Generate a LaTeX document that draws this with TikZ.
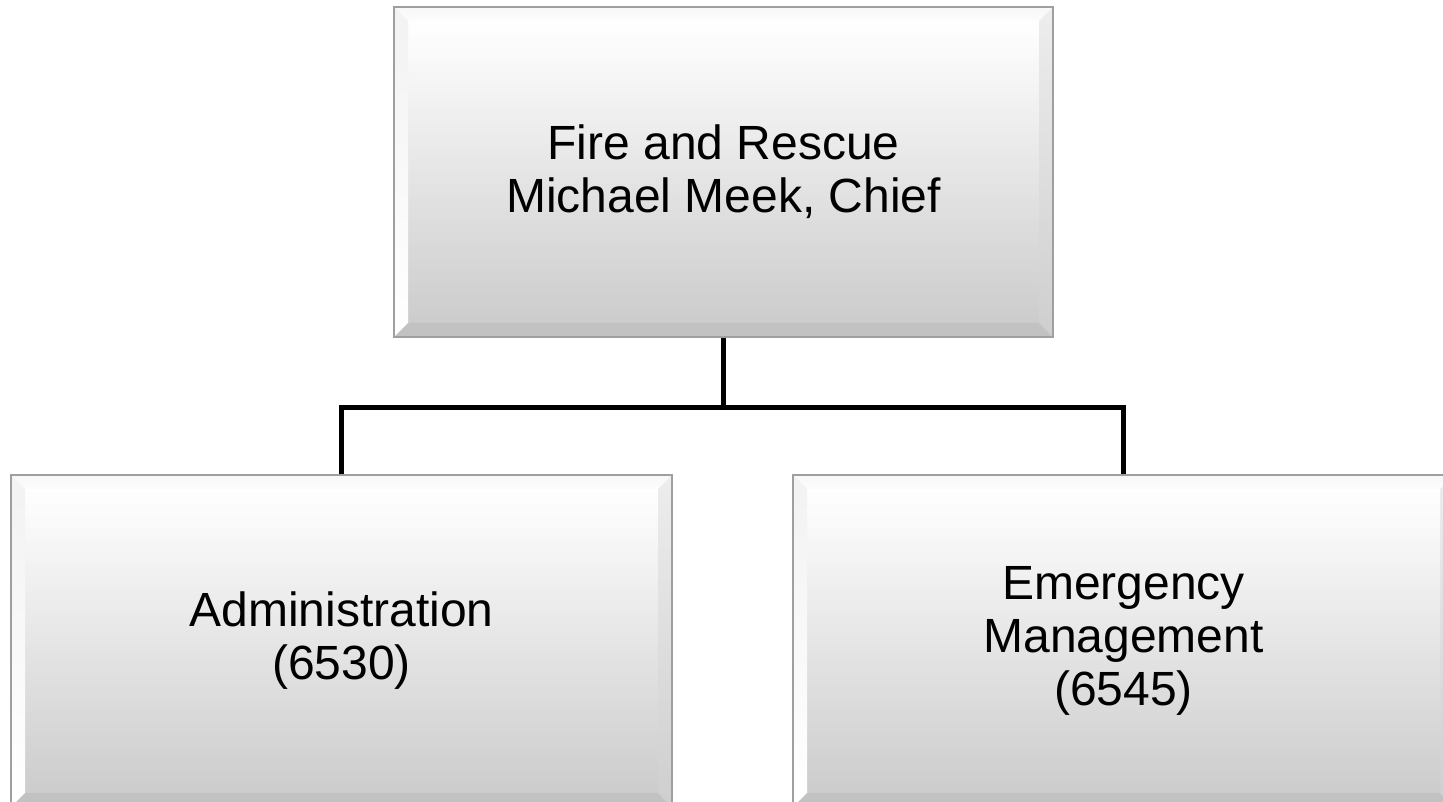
\documentclass[tikz,border=0pt]{standalone}
\usepackage{fontspec}
\setmainfont{Liberation Sans}
\usetikzlibrary{calc}
\newcommand{\bw}{14pt}
\tikzset{
  bevelbox/.style={rectangle, draw=gray!75, line width=1.2pt, align=center, inner sep=0pt,
    font=\fontsize{48}{53}\selectfont,
    path picture={
      \coordinate (A) at (path picture bounding box.north west);
      \coordinate (B) at (path picture bounding box.north east);
      \coordinate (C) at (path picture bounding box.south east);
      \coordinate (D) at (path picture bounding box.south west);
      \coordinate (a) at ($(A)+(\bw,-\bw)$);
      \coordinate (b) at ($(B)+(-\bw,-\bw)$);
      \coordinate (c) at ($(C)+(-\bw,\bw)$);
      \coordinate (d) at ($(D)+(\bw,\bw)$);
      \shade[top color=white, bottom color=gray!40] (a) rectangle (c);
      \shade[top color=gray!6, bottom color=gray!2] (A) -- (B) -- (b) -- (a) -- cycle;
      \shade[top color=gray!10, bottom color=white] (A) -- (a) -- (d) -- (D) -- cycle;
      \shade[top color=gray!14, bottom color=gray!38] (B) -- (C) -- (c) -- (b) -- cycle;
      \fill[gray!48] (D) -- (d) -- (c) -- (C) -- cycle;
    }},
  conn/.style={draw=black, line width=4.5pt}
}
\begin{document}
\begin{tikzpicture}[x=1pt,y=1pt]
\useasboundingbox (0,0) rectangle (1443,-802);
\clip (0,0) rectangle (1443,-802);
\fill[white] (0,0) rectangle (1443,-802);
\node[bevelbox, minimum width=659pt, minimum height=330pt] (top) at (723.5,-172)
  {Fire and Rescue\\Michael Meek, Chief};
\node[bevelbox, minimum width=661pt, minimum height=332pt] (adm) at (341.5,-641)
  {Administration\\(6530)};
\node[bevelbox, minimum width=661pt, minimum height=332pt] (emg) at (1123.5,-641)
  {Emergency\\Management\\(6545)};
\coordinate (j) at ($(top.south)+(0,-70)$);
\draw[conn] (top.south) -- (j);
\draw[conn, line join=miter] (adm.north) |- (j) -| (emg.north);
\end{tikzpicture}
\end{document}
